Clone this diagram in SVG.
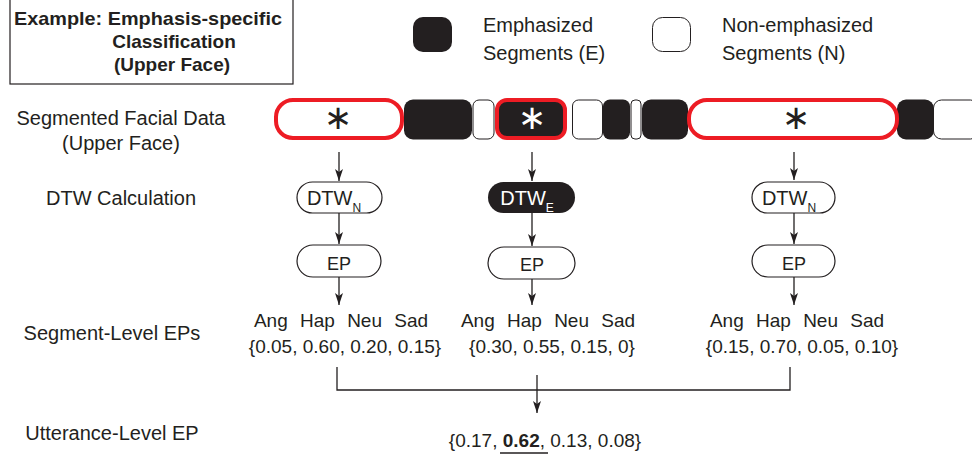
<svg xmlns="http://www.w3.org/2000/svg" width="972" height="456" viewBox="0 0 972 456">
<style>
text{font-family:"Liberation Sans",Arial,sans-serif;fill:#231f20}
.lbl{font-size:20px}
.t19{font-size:19px}
.nd{font-size:18px;text-anchor:middle}
.dtw{font-size:20px;text-anchor:middle}
.sub{font-size:12px}
.blk{fill:#231f20}
.wht{fill:#fff;stroke:#231f20;stroke-width:1}
.red{stroke:#ed1c24;stroke-width:4}
.pill{fill:#fff;stroke:#231f20;stroke-width:1.2}
.ast{font-family:"DejaVu Sans",sans-serif;font-size:34px;text-anchor:middle}
.cn{stroke:#231f20;stroke-width:1.3;fill:none}
</style>
<defs>
<marker id="ah" markerUnits="userSpaceOnUse" markerWidth="13" markerHeight="9" refX="12" refY="4.5" orient="auto" viewBox="0 0 13 9">
<path d="M0,0.5 L12,4.5 L0,8.5 L3,4.5 z" fill="#231f20"/>
</marker>
</defs>
<rect width="972" height="456" fill="#fff"/>

<g id="title">
<rect x="10" y="-2" width="283" height="86" fill="#fff" stroke="#231f20" stroke-width="1.2"/>
<text x="14" y="25" font-size="19" font-weight="bold" textLength="268" lengthAdjust="spacingAndGlyphs">Example: Emphasis-specific</text>
<text x="174" y="48" font-size="19" font-weight="bold" text-anchor="middle">Classification</text>
<text x="172" y="71" font-size="19" font-weight="bold" text-anchor="middle">(Upper Face)</text>
</g>

<g id="legend-E">
<rect x="413" y="17" width="39" height="35" rx="10" class="blk"/>
<text x="483" y="32" class="lbl">Emphasized</text>
<text x="483" y="60" class="lbl">Segments (E)</text>
</g>
<g id="legend-N">
<rect x="652.5" y="17.5" width="38" height="34" rx="10" class="wht"/>
<text x="722" y="32" class="lbl">Non-emphasized</text>
<text x="722" y="60" class="lbl">Segments (N)</text>
</g>

<g id="row-labels">
<text x="121" y="125" class="lbl" text-anchor="middle">Segmented Facial Data</text>
<text x="121" y="150" class="lbl" text-anchor="middle">(Upper Face)</text>
<text x="121" y="205" class="lbl" text-anchor="middle">DTW Calculation</text>
<text x="112" y="340" class="lbl" text-anchor="middle">Segment-Level EPs</text>
<text x="112" y="440" class="lbl" text-anchor="middle">Utterance-Level EP</text>
</g>

<g id="segments">
<rect x="404" y="99.5" width="68" height="40" rx="9" class="blk"/>
<rect x="473" y="100" width="21" height="39" rx="6" class="wht"/>
<rect x="572.5" y="100" width="30" height="39" rx="6" class="wht"/>
<rect x="603" y="99.5" width="27" height="40" rx="7" class="blk"/>
<rect x="631" y="100" width="10" height="39" rx="4" class="wht"/>
<rect x="642" y="99.5" width="46" height="40" rx="9" class="blk"/>
<rect x="897" y="99.5" width="37" height="40" rx="9" class="blk"/>
<rect x="933.5" y="100" width="45" height="39" rx="8" class="wht"/>
</g>
<g id="seg-N1">
<rect x="276" y="100" width="126" height="38" rx="17" fill="#fff" class="red"/>
<text x="338" y="129" class="ast">∗</text>
</g>
<g id="seg-E">
<rect x="497" y="100" width="68" height="38" rx="10" fill="#231f20" class="red"/>
<text x="532" y="129" class="ast" style="fill:#fff">∗</text>
</g>
<g id="seg-N2">
<rect x="689" y="100" width="208" height="38" rx="18" fill="#fff" class="red"/>
<text x="796" y="129" class="ast">∗</text>
</g>

<g id="dtw1">
<rect x="297" y="182" width="85" height="31" rx="15.5" class="pill"/>
<text x="334" y="205" class="dtw">DTW<tspan class="sub" dy="7">N</tspan></text>
</g>
<g id="dtw2">
<rect x="488" y="182" width="87" height="31" rx="15.5" fill="#231f20"/>
<text x="527" y="205" class="dtw" style="fill:#fff">DTW<tspan class="sub" dy="7" style="fill:#fff">E</tspan></text>
</g>
<g id="dtw3">
<rect x="752" y="182" width="83" height="31" rx="15.5" class="pill"/>
<text x="789" y="205" class="dtw">DTW<tspan class="sub" dy="7">N</tspan></text>
</g>

<g id="ep1">
<rect x="297" y="245" width="84" height="32" rx="16" class="pill"/>
<text x="339" y="270" class="nd">EP</text>
</g>
<g id="ep2">
<rect x="488" y="247" width="87" height="32" rx="16" class="pill"/>
<text x="532" y="271" class="nd">EP</text>
</g>
<g id="ep3">
<rect x="752" y="245" width="83" height="32" rx="16" class="pill"/>
<text x="794" y="270" class="nd">EP</text>
</g>

<g id="seg-ep1">
<text x="341" y="327" class="t19" text-anchor="middle" word-spacing="7">Ang Hap Neu Sad</text>
<text x="345" y="353" class="t19" text-anchor="middle">{0.05, 0.60, 0.20, 0.15}</text>
</g>
<g id="seg-ep2">
<text x="548" y="327" class="t19" text-anchor="middle" word-spacing="7">Ang Hap Neu Sad</text>
<text x="552" y="353" class="t19" text-anchor="middle">{0.30, 0.55, 0.15, 0}</text>
</g>
<g id="seg-ep3">
<text x="797" y="327" class="t19" text-anchor="middle" word-spacing="7">Ang Hap Neu Sad</text>
<text x="802" y="353" class="t19" text-anchor="middle">{0.15, 0.70, 0.05, 0.10}</text>
</g>

<g id="utt-ep">
<text x="545" y="447" class="t19" text-anchor="middle">{0.17, <tspan font-weight="bold">0.62</tspan>, 0.13, 0.08}</text>
<line x1="500" y1="453" x2="548" y2="453" stroke="#231f20" stroke-width="1.3"/>
</g>

<g id="connectors">
<line x1="339" y1="152" x2="339" y2="181" class="cn" marker-end="url(#ah)"/>
<line x1="339" y1="213" x2="339" y2="244" class="cn" marker-end="url(#ah)"/>
<line x1="339" y1="277" x2="339" y2="305" class="cn" marker-end="url(#ah)"/>
<line x1="532" y1="152" x2="532" y2="181" class="cn" marker-end="url(#ah)"/>
<line x1="532" y1="213" x2="532" y2="246" class="cn" marker-end="url(#ah)"/>
<line x1="532" y1="279" x2="532" y2="305" class="cn" marker-end="url(#ah)"/>
<line x1="794" y1="152" x2="794" y2="180" class="cn" marker-end="url(#ah)"/>
<line x1="794" y1="213" x2="794" y2="244" class="cn" marker-end="url(#ah)"/>
<line x1="794" y1="277" x2="794" y2="305" class="cn" marker-end="url(#ah)"/>
<polyline points="337,367 337,390 790,390 790,367" class="cn"/>
<line x1="537" y1="375" x2="537" y2="413" class="cn" marker-end="url(#ah)"/>
</g>
</svg>
